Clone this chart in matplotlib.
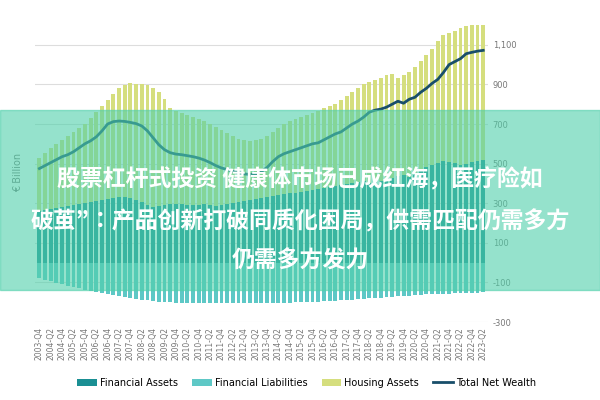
import matplotlib.pyplot as plt
from matplotlib import font_manager
from matplotlib.patches import Rectangle

quarters = ["2003-Q4"] + [f"{y}-Q{q}" for y in range(2004, 2023) for q in range(1, 5)] + ["2023-Q1", "2023-Q2"]
tick_labels = quarters[::2]

# one value per quarter, 2003-Q4 .. 2023-Q2
total_assets = [530,
                555, 580, 600, 620,        # 2004
                640, 660, 680, 700,        # 2005
                730, 760, 790, 820,        # 2006
                850, 880, 895, 905,        # 2007
                900, 900, 895, 880,        # 2008
                860, 825, 780, 765,        # 2009
                755, 745, 735, 725,        # 2010
                715, 700, 685, 670,        # 2011
                655, 640, 625, 620,        # 2012
                615, 620, 625, 640,        # 2013
                660, 680, 700, 715,        # 2014
                725, 735, 745, 755,        # 2015
                765, 780, 790, 800,        # 2016
                820, 840, 860, 880,        # 2017
                900, 910, 920, 930,        # 2018
                945, 955, 930, 950,        # 2019
                965, 990, 1020, 1050,      # 2020
                1080, 1120, 1150, 1160,    # 2021
                1170, 1185, 1195, 1200,    # 2022
                1200, 1200]                # 2023
financial_assets = [260,
                    265, 270, 275, 280,
                    285, 290, 295, 300,
                    305, 310, 315, 320,
                    325, 330, 330, 325,
                    315, 305, 290, 280,
                    285, 290, 295, 295,
                    295, 290, 290, 290,
                    295, 290, 285, 290,
                    295, 300, 305, 310,
                    315, 320, 325, 330,
                    335, 340, 345, 350,
                    350, 355, 360, 365,
                    370, 375, 380, 385,
                    390, 395, 400, 405,
                    410, 400, 405, 410,
                    420, 425, 435, 440,
                    430, 455, 470, 485,
                    495, 505, 515, 510,
                    505, 495, 500, 510,
                    515, 520]
financial_liabilities = [-80,
                         -88, -95, -102, -110,          # 2004
                         -117, -123, -130, -136,        # 2005
                         -142, -148, -154, -160,        # 2006
                         -166, -171, -175, -180,        # 2007
                         -184, -188, -191, -194,        # 2008
                         -197, -199, -200, -202,        # 2009
                         -203, -204, -205, -205,        # 2010
                         -206, -206, -206, -206,        # 2011
                         -206, -206, -206, -205,        # 2012
                         -205, -205, -204, -204,        # 2013
                         -203, -203, -202, -202,        # 2014
                         -201, -200, -199, -198,        # 2015
                         -197, -196, -195, -193,        # 2016
                         -191, -189, -187, -185,        # 2017
                         -183, -181, -179, -177,        # 2018
                         -175, -173, -171, -169,        # 2019
                         -167, -165, -163, -161,        # 2020
                         -160, -159, -158, -157,        # 2021
                         -156, -155, -154, -153,        # 2022
                         -152, -150]                    # 2023
net_wealth = [475,
              490, 505, 520, 535,          # 2004
              545, 560, 580, 600,          # 2005
              615, 635, 665, 700,          # 2006
              712, 715, 713, 708,          # 2007
              702, 690, 665, 630,          # 2008
              595, 570, 555, 548,          # 2009
              545, 540, 535, 528,          # 2010
              518, 505, 490, 478,          # 2011
              470, 462, 455, 448,          # 2012
              445, 448, 460, 480,          # 2013
              510, 535, 550, 560,          # 2014
              570, 580, 590, 600,          # 2015
              605, 620, 635, 650,          # 2016
              660, 680, 700, 715,          # 2017
              735, 760, 770, 775,          # 2018
              785, 800, 815, 805,          # 2019
              825, 835, 860, 880,          # 2020
              905, 925, 960, 1000,         # 2021
              1015, 1030, 1055, 1062,      # 2022
              1068, 1072]                  # 2023

fig = plt.figure(figsize=(6, 4), dpi=100)
ax = fig.add_axes([0.058, 0.195, 0.755, 0.7425])
x = list(range(len(quarters)))
housing = [t - f for t, f in zip(total_assets, financial_assets)]

b1 = ax.bar(x, financial_assets, width=0.68, color="#1a8f93", zorder=2)
b2 = ax.bar(x, financial_liabilities, width=0.68, color="#5ec8c6", zorder=2)
b3 = ax.bar(x, housing, bottom=financial_assets, width=0.68, color="#d5de7e", zorder=2)
l1, = ax.plot(x, net_wealth, color="#184e6a", lw=2, zorder=3)

ax.set_ylim(-300, 1200)
ax.set_xlim(-0.8, len(x) - 0.2)
ax.set_yticks([-300, -100, 100, 300, 500, 700, 900, 1100])
ax.set_yticklabels(["-300", "-100", "100", "300", "500", "700", "900", "1,100"])
ax.yaxis.tick_right()
ax.tick_params(axis="y", length=0, labelsize=6, colors="#777777")
ax.set_xticks(x[::2])
ax.set_xticklabels(tick_labels, rotation=90, fontsize=5.5, color="#777777")
ax.tick_params(axis="x", length=0)
ax.grid(axis="y", color="#dddddd", lw=0.8, zorder=0)
for s in ax.spines.values():
    s.set_visible(False)
fig.text(0.03, 0.57, "€ Billion", rotation=90, fontsize=7, color="#777777", ha="center", va="center")

ax.legend([b1, b2, b3, l1],
          ["Financial Assets", "Financial Liabilities", "Housing Assets", "Total Net Wealth"],
          loc="center", bbox_to_anchor=(0.6, -0.205), ncol=4, frameon=False, fontsize=7,
          handlelength=2.0, columnspacing=1.5, handletextpad=0.3)

# overlay banner
cjk = None
for f in font_manager.findSystemFonts():
    if "NotoSansCJK" in f.replace(" ", "") and "Bold" in f:
        cjk = font_manager.FontProperties(fname=f, size=16.5)
        break
if cjk is None:
    cjk = font_manager.FontProperties(family=["Noto Sans CJK SC", "Noto Sans CJK JP"], weight="bold", size=16.5)

fig.patches.append(Rectangle((0, 1 - 290 / 400), 1, 180 / 400, transform=fig.transFigure,
                             color="#4fd0aa", alpha=0.6, zorder=5))
fig.text(0.5, 1 - 180 / 400, "股票杠杆式投资 健康体市场已成红海，医疗险如",
         color="white", ha="center", va="center", fontproperties=cjk, zorder=6)
fig.text(0.5, 1 - 222 / 400, "破茧”：产品创新打破同质化困局，供需匹配仍需多方",
         color="white", ha="center", va="center", fontproperties=cjk, zorder=6)
fig.text(0.5, 1 - 261 / 400, "仍需多方发力",
         color="white", ha="center", va="center", fontproperties=cjk, zorder=6)

fig.savefig("out.png", dpi=100)
